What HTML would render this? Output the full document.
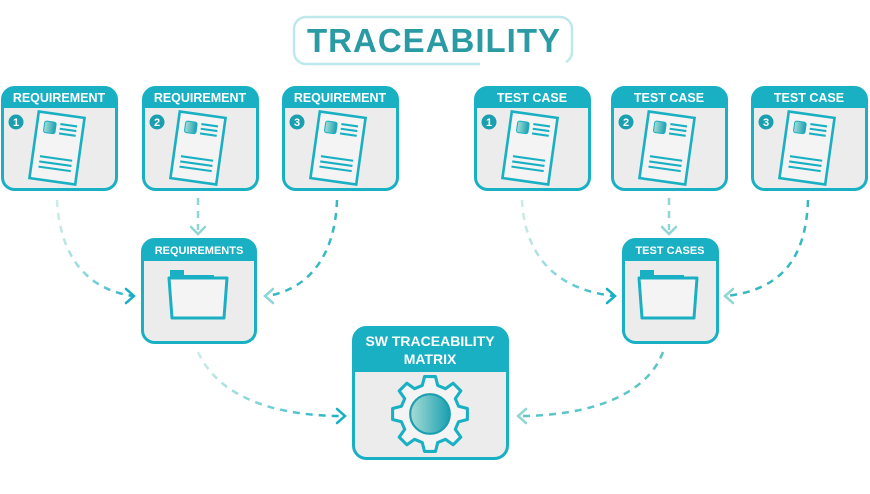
<!DOCTYPE html>
<html><head><meta charset="utf-8"><style>
body{margin:0;background:#fff;}
svg{display:block;font-family:"Liberation Sans",sans-serif;font-weight:bold;}
</style></head><body>
<svg width="870" height="494" viewBox="0 0 870 494" xmlns="http://www.w3.org/2000/svg">
<defs>
<linearGradient id="g" x1="0" x2="1"><stop offset="0" stop-color="#c9ece6"/><stop offset="1" stop-color="#1ab0c3"/></linearGradient>
<linearGradient id="sq" x1="0" x2="1"><stop offset="0" stop-color="#a8ddd6"/><stop offset="1" stop-color="#1a9fb0"/></linearGradient>
<g id="doc">
<rect x="-22" y="-32" width="44" height="64" fill="#f4f4f4" stroke="#1ab0c3" stroke-width="2.5"/>
<rect x="-15" y="-24" width="11" height="11" rx="2" fill="url(#sq)" stroke="#1ab0c3" stroke-width="1"/>
<path d="M0 -23H16M0 -18.5H16M0 -14H16M-15 10H16M-15 15H16M-15 20H16" stroke="#1ab0c3" stroke-width="2"/>
</g>
<g id="folder">
<path d="M-28 -30h14v5h30v3h-44z" fill="#1ab0c3"/>
<path d="M-29 -22h58l-3 40h-52z" fill="#f4f4f4" stroke="#1ab0c3" stroke-width="3" stroke-linejoin="round"/>
</g>
</defs>

<path d="M480 64H306a12 12 0 0 1-12-12V29a12 12 0 0 1 12-12H560a12 12 0 0 1 12 12V52a12 12 0 0 1-6 10" fill="none" stroke="#bfe8ec" stroke-width="2.5"/>
<text x="434" y="52" text-anchor="middle" font-size="33" fill="#2a9aa5" letter-spacing="1">TRACEABILITY</text>

<g fill="none" stroke-width="2.5" stroke-dasharray="7 6">
<path d="M57 200C60 260 90 290 133 296" stroke="url(#g)"/>
<path d="M198 198V230" stroke="#8fd6d4"/>
<path d="M337 200C335 260 305 290 267 296" stroke="#37b9c4"/>
<path d="M522 200C525 260 560 290 614 296" stroke="url(#g)"/>
<path d="M669 198V230" stroke="#8fd6d4"/>
<path d="M808 200C806 260 780 290 726 296" stroke="#37b9c4"/>
<path d="M198 352C220 400 280 416 343 416" stroke="url(#g)"/>
<path d="M663 352C645 400 580 416 519 416" stroke="#5cc5c8"/>
</g>
<g fill="none" stroke-width="2.5" stroke-linecap="round">
<path d="M126 289l8 7-8 7" stroke="#1ab0c3"/>
<path d="M191 227l7 7 7-7" stroke="#8fd6d4"/>
<path d="M273 289l-8 7 8 7" stroke="#8fd6d4"/>
<path d="M607 289l8 7-8 7" stroke="#1ab0c3"/>
<path d="M662 227l7 7 7-7" stroke="#8fd6d4"/>
<path d="M733 289l-8 7 8 7" stroke="#8fd6d4"/>
<path d="M337 409l8 7-8 7" stroke="#1ab0c3"/>
<path d="M526 409l-8 7 8 7" stroke="#8fd6d4"/>
</g>

<g>
<g transform="translate(1,86)">
<rect x="1.5" y="1.5" width="114" height="102" rx="12" fill="#ececec" stroke="#1ab0c3" stroke-width="3"/>
<path d="M1.5 22V13.5a12 12 0 0 1 12-12h90a12 12 0 0 1 12 12V22z" fill="#1ab0c3"/>
</g>
<g transform="translate(142,86)">
<rect x="1.5" y="1.5" width="114" height="102" rx="12" fill="#ececec" stroke="#1ab0c3" stroke-width="3"/>
<path d="M1.5 22V13.5a12 12 0 0 1 12-12h90a12 12 0 0 1 12 12V22z" fill="#1ab0c3"/>
</g>
<g transform="translate(282,86)">
<rect x="1.5" y="1.5" width="114" height="102" rx="12" fill="#ececec" stroke="#1ab0c3" stroke-width="3"/>
<path d="M1.5 22V13.5a12 12 0 0 1 12-12h90a12 12 0 0 1 12 12V22z" fill="#1ab0c3"/>
</g>
<g transform="translate(474,86)">
<rect x="1.5" y="1.5" width="114" height="102" rx="12" fill="#ececec" stroke="#1ab0c3" stroke-width="3"/>
<path d="M1.5 22V13.5a12 12 0 0 1 12-12h90a12 12 0 0 1 12 12V22z" fill="#1ab0c3"/>
</g>
<g transform="translate(611,86)">
<rect x="1.5" y="1.5" width="114" height="102" rx="12" fill="#ececec" stroke="#1ab0c3" stroke-width="3"/>
<path d="M1.5 22V13.5a12 12 0 0 1 12-12h90a12 12 0 0 1 12 12V22z" fill="#1ab0c3"/>
</g>
<g transform="translate(751,86)">
<rect x="1.5" y="1.5" width="114" height="102" rx="12" fill="#ececec" stroke="#1ab0c3" stroke-width="3"/>
<path d="M1.5 22V13.5a12 12 0 0 1 12-12h90a12 12 0 0 1 12 12V22z" fill="#1ab0c3"/>
</g>
</g>
<g font-size="12.5" fill="#fff" text-anchor="middle">
<text x="59" y="102">REQUIREMENT</text>
<text x="200" y="102">REQUIREMENT</text>
<text x="340" y="102">REQUIREMENT</text>
<text x="532" y="102">TEST CASE</text>
<text x="669" y="102">TEST CASE</text>
<text x="809" y="102">TEST CASE</text>
</g>
<g fill="#1a9fb0"><circle cx="16" cy="122" r="7.5"/><circle cx="157" cy="122" r="7.5"/><circle cx="297" cy="122" r="7.5"/><circle cx="489" cy="122" r="7.5"/><circle cx="626" cy="122" r="7.5"/><circle cx="766" cy="122" r="7.5"/></g>
<g font-size="11" fill="#fff" text-anchor="middle">
<text x="16" y="126">1</text><text x="157" y="126">2</text><text x="297" y="126">3</text>
<text x="489" y="126">1</text><text x="626" y="126">2</text><text x="766" y="126">3</text>
</g>
<use href="#doc" transform="translate(57,148) rotate(8) scale(1.05)"/>
<use href="#doc" transform="translate(198,148) rotate(8) scale(1.05)"/>
<use href="#doc" transform="translate(338,148) rotate(8) scale(1.05)"/>
<use href="#doc" transform="translate(530,148) rotate(8) scale(1.05)"/>
<use href="#doc" transform="translate(667,148) rotate(8) scale(1.05)"/>
<use href="#doc" transform="translate(807,148) rotate(8) scale(1.05)"/>

<rect x="142.5" y="239.5" width="113" height="103" rx="12" fill="#ececec" stroke="#1ab0c3" stroke-width="3"/>
<path d="M142.5 261V251.5a12 12 0 0 1 12-12h89a12 12 0 0 1 12 12V261z" fill="#1ab0c3"/>
<text x="199" y="254" font-size="11" fill="#fff" text-anchor="middle">REQUIREMENTS</text>
<use href="#folder" transform="translate(198,300)"/>

<rect x="623.5" y="239.5" width="94" height="103" rx="12" fill="#ececec" stroke="#1ab0c3" stroke-width="3"/>
<path d="M623.5 261V251.5a12 12 0 0 1 12-12h70a12 12 0 0 1 12 12V261z" fill="#1ab0c3"/>
<text x="670" y="254" font-size="11" fill="#fff" text-anchor="middle">TEST CASES</text>
<use href="#folder" transform="translate(668,300)"/>

<rect x="353.5" y="327.5" width="154" height="131" rx="13" fill="#ececec" stroke="#1ab0c3" stroke-width="3"/>
<path d="M353.5 372V340.5a13 13 0 0 1 13-13h128a13 13 0 0 1 13 13V372z" fill="#1ab0c3"/>
<text x="430" y="346" font-size="14" fill="#fff" text-anchor="middle">SW TRACEABILITY</text>
<text x="430" y="364" font-size="14" fill="#fff" text-anchor="middle">MATRIX</text>
<g transform="translate(430,414) scale(1.1)">
<path d="M-5 -34h10l2 8 7 3 7-5 7 7-5 7 3 7 8 2v10l-8 2-3 7 5 7-7 7-7-5-7 3-2 8h-10l-2-8-7-3-7 5-7-7 5-7-3-7-8-2v-10l8-2 3-7-5-7 7-7 7 5 7-3z" fill="#f4f4f4" stroke="#1ab0c3" stroke-width="2.8" stroke-linejoin="round"/>
<circle r="18" fill="url(#sq)" stroke="#1a9fb0" stroke-width="2"/>
</g>
</svg>
</body></html>
